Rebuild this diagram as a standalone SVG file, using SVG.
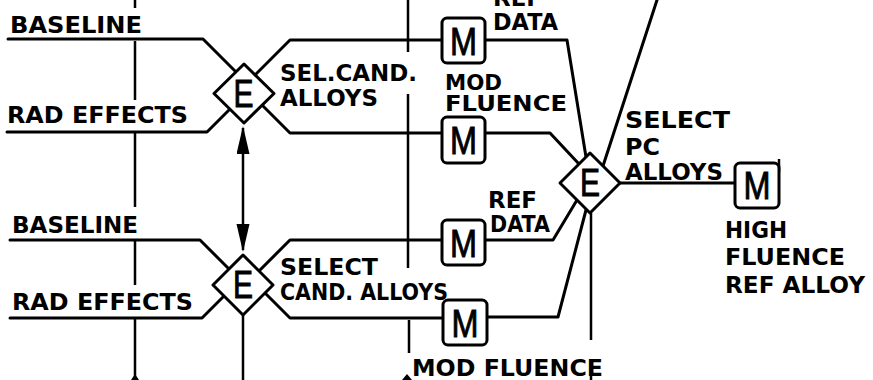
<svg xmlns="http://www.w3.org/2000/svg" width="873" height="380" viewBox="0 0 873 380">
<defs>
<style>
.ln{fill:none;stroke:#000;stroke-width:3;stroke-linejoin:round;stroke-linecap:round}
.thin{fill:none;stroke:#000;stroke-width:2.5;stroke-linecap:butt}
.lbl{font-family:"DejaVu Sans","Liberation Sans",sans-serif;font-weight:bold;font-size:23px;fill:#000}
.sm{font-size:21px}
.dia{fill:#fff;stroke:#000;stroke-width:3;stroke-linejoin:round}
.box{fill:#fff;stroke:#000;stroke-width:3}
.big{font-family:"Liberation Sans",Arial,sans-serif;font-size:38px;fill:#000;stroke:#000;stroke-width:0.9;text-anchor:middle}
</style>
<marker id="ah" markerUnits="userSpaceOnUse" markerWidth="30" markerHeight="14" refX="26" refY="6.5" orient="auto-start-reverse" viewBox="0 0 30 14">
<path d="M0,0 L28,6.5 L0,13 z" fill="#000"/>
</marker>
</defs>
<rect width="873" height="380" fill="#fff"/>
<g id="connectors">
<path class="thin" d="M135,0 V8 M135,41 V100 M135,132 V207 M135,240 V285 M135,318 V380"/>
<polygon points="135,374 131,380 139,380" fill="#000"/>
<path class="thin" d="M408,0 V52 M408,94 V268 M409,320 V353"/>
<polygon points="407,374 402,380 412,380" fill="#000"/>
<path class="thin" d="M243,128 V250" marker-start="url(#ah)" marker-end="url(#ah)"/>
<path class="thin" d="M243,313 V380"/>
<path class="ln" d="M8,39 H203 L235,71"/>
<path class="ln" d="M7,132 H207 L229.5,109.5"/>
<path class="ln" d="M255,75 L290,40 H442"/>
<path class="ln" d="M261.5,104.5 L290,133 H442"/>
<path class="ln" d="M485,40 H567 L586,157"/>
<path class="ln" d="M485,133 H550 L579,164"/>
<path class="ln" d="M657,0 L603,166"/>
<path class="ln" d="M10,240 H200 L229,269"/>
<path class="ln" d="M10,318 H202 L225,295"/>
<path class="ln" d="M259,271 L290,240 H442"/>
<path class="ln" d="M264,292 L290,318 H443"/>
<path class="ln" d="M485,240 H553 L577,200"/>
<path class="ln" d="M487,317 H558 L586,210"/>
<path class="thin" d="M591,213 V340 M591,376 V380"/>
<path class="ln" d="M620,183 H735"/>
<path class="thin" d="M779,159 V172"/>
</g>
<g id="E1">
<polygon class="dia" points="244,64 274,93.5 244,123 214,93.5"/>
<text class="big" x="243.5" y="107" textLength="20" lengthAdjust="spacingAndGlyphs">E</text>
</g>
<g id="E2">
<polygon class="dia" points="243,255 273,285 243,315 213,285"/>
<text class="big" x="243" y="298" textLength="20" lengthAdjust="spacingAndGlyphs">E</text>
</g>
<g id="E3">
<polygon class="dia" points="590,153 620,183 590,213 560,183"/>
<text class="big" x="590" y="196" textLength="20" lengthAdjust="spacingAndGlyphs">E</text>
</g>
<g id="M1">
<rect class="box" x="442" y="18" width="43" height="45" rx="5"/>
<text class="big" x="463.5" y="55" textLength="27" lengthAdjust="spacingAndGlyphs">M</text>
</g>
<g id="M2">
<rect class="box" x="442" y="117" width="43" height="46" rx="5"/>
<text class="big" x="463.5" y="154" textLength="27" lengthAdjust="spacingAndGlyphs">M</text>
</g>
<g id="M3">
<rect class="box" x="442" y="220" width="43" height="45" rx="5"/>
<text class="big" x="463.5" y="257" textLength="27" lengthAdjust="spacingAndGlyphs">M</text>
</g>
<g id="M4">
<rect class="box" x="443" y="300" width="44" height="45" rx="5"/>
<text class="big" x="465" y="337" textLength="27" lengthAdjust="spacingAndGlyphs">M</text>
</g>
<g id="M5">
<rect class="box" x="735" y="163" width="44" height="45" rx="5"/>
<text class="big" x="757" y="199" textLength="27" lengthAdjust="spacingAndGlyphs">M</text>
</g>
<g id="labels">
<text class="lbl" x="10" y="33" textLength="132" lengthAdjust="spacingAndGlyphs">BASELINE</text>
<text class="lbl" x="7" y="123" textLength="181" lengthAdjust="spacingAndGlyphs">RAD EFFECTS</text>
<text class="lbl" x="12" y="233" textLength="126" lengthAdjust="spacingAndGlyphs">BASELINE</text>
<text class="lbl" x="12" y="310" textLength="181" lengthAdjust="spacingAndGlyphs">RAD EFFECTS</text>
<text class="lbl" x="280" y="81" textLength="137" lengthAdjust="spacingAndGlyphs">SEL.CAND.</text>
<text class="lbl" x="280" y="106" textLength="98" lengthAdjust="spacingAndGlyphs">ALLOYS</text>
<text class="lbl sm" x="445" y="90" textLength="57" lengthAdjust="spacingAndGlyphs">MOD</text>
<text class="lbl sm" x="445" y="111" textLength="122" lengthAdjust="spacingAndGlyphs">FLUENCE</text>
<text class="lbl" x="493" y="6" textLength="49" lengthAdjust="spacingAndGlyphs">REF</text>
<text class="lbl" x="493" y="30" textLength="65" lengthAdjust="spacingAndGlyphs">DATA</text>
<text class="lbl" x="625" y="128" textLength="105" lengthAdjust="spacingAndGlyphs">SELECT</text>
<text class="lbl" x="625" y="155" textLength="35" lengthAdjust="spacingAndGlyphs">PC</text>
<text class="lbl" x="625" y="180" textLength="98" lengthAdjust="spacingAndGlyphs">ALLOYS</text>
<text class="lbl" x="725" y="238" textLength="62" lengthAdjust="spacingAndGlyphs">HIGH</text>
<text class="lbl" x="725" y="265" textLength="120" lengthAdjust="spacingAndGlyphs">FLUENCE</text>
<text class="lbl" x="725" y="293" textLength="140" lengthAdjust="spacingAndGlyphs">REF ALLOY</text>
<text class="lbl" x="488" y="208" textLength="49" lengthAdjust="spacingAndGlyphs">REF</text>
<text class="lbl" x="490" y="232" textLength="60" lengthAdjust="spacingAndGlyphs">DATA</text>
<text class="lbl" x="280" y="275" textLength="98" lengthAdjust="spacingAndGlyphs">SELECT</text>
<text class="lbl" x="280" y="300" textLength="168" lengthAdjust="spacingAndGlyphs">CAND. ALLOYS</text>
<text class="lbl" x="412" y="376" textLength="191" lengthAdjust="spacingAndGlyphs">MOD FLUENCE</text>
</g>
</svg>
